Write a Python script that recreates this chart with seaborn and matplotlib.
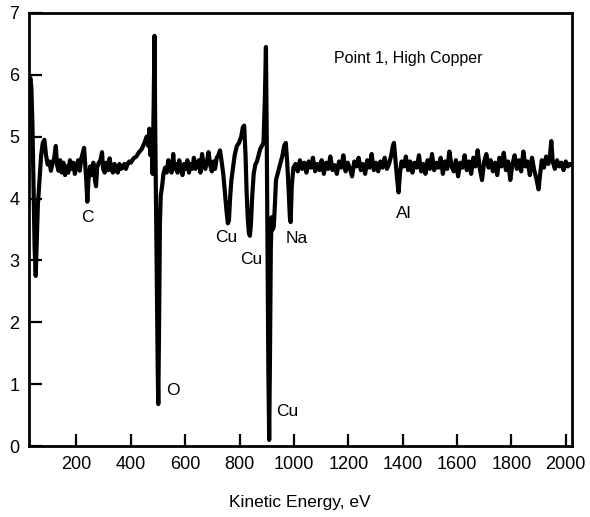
import matplotlib
matplotlib.use("Agg")
import matplotlib.pyplot as plt
import seaborn as sns
import pandas as pd

energy = [26, 30, 34, 38, 42, 46, 50, 54, 58, 64, 70, 76, 82, 88, 94, 100, 106, 112, 118, 124, 128,
          134, 140, 146, 152, 158, 164, 170, 176, 182, 188, 194, 200, 206, 212, 218, 224, 228, 232,
          236, 240, 244, 250, 256, 262, 268, 272, 276, 282, 288, 294, 298, 304, 310, 316, 322, 328,
          334, 340, 346, 352, 358, 364, 370, 376, 382, 388, 394, 400, 410, 420, 430, 440, 450, 458,
          464, 468, 472, 476, 480, 484, 487, 490, 493, 496, 499, 501, 504, 507, 510, 515, 520, 526,
          532, 538, 544, 550, 556, 560, 566, 572, 578, 584, 590, 596, 602, 608, 614, 620, 626, 632,
          638, 644, 650, 656, 662, 668, 674, 680, 686, 692, 698, 704, 710, 716, 722, 728, 734, 740,
          746, 752, 757, 761, 765, 770, 776, 782, 790, 798, 806, 812, 817, 822, 826, 830, 834, 838,
          842, 846, 852, 858, 864, 870, 876, 882, 888, 893, 897, 900, 903, 906, 909, 912, 915, 918,
          922, 926, 930, 934, 940, 946, 952, 958, 964, 970, 975, 980, 985, 988, 992, 998,
          1006, 1014, 1022, 1030, 1038, 1046, 1054, 1062, 1070, 1078, 1086, 1094, 1102, 1110, 1118,
          1126, 1134, 1142, 1150, 1158, 1166, 1174, 1182, 1190, 1198, 1206, 1214, 1222, 1230, 1238,
          1246, 1254, 1262, 1270, 1278, 1286, 1294, 1302, 1310, 1318, 1326, 1334, 1342, 1350, 1358,
          1364, 1368, 1374, 1380, 1385, 1390, 1396, 1404, 1412, 1420, 1428, 1436, 1444, 1452, 1460,
          1468, 1476, 1484, 1492, 1500, 1508, 1516, 1524, 1532, 1540, 1548, 1556, 1564, 1572, 1580,
          1588, 1596, 1604, 1612, 1620, 1628, 1636, 1644, 1652, 1660, 1668, 1676, 1684, 1692, 1700,
          1708, 1716, 1724, 1732, 1740, 1748, 1756, 1764, 1772, 1780, 1788, 1796, 1804, 1812, 1820,
          1828, 1836, 1844, 1852, 1860, 1868, 1876, 1884, 1892, 1900, 1906, 1912, 1920, 1928, 1936,
          1942, 1947, 1952, 1960, 1968, 1976, 1984, 1992, 2000, 2008, 2016, 2022]

signal = [5.70, 5.95, 5.80, 5.20, 4.20, 3.20, 2.75, 3.30, 3.90, 4.30, 4.70, 4.90, 4.95, 4.70, 4.55,
          4.60, 4.45, 4.58, 4.65, 4.85, 4.55, 4.45, 4.62, 4.42, 4.58, 4.38, 4.52, 4.42, 4.62, 4.48,
          4.58, 4.40, 4.52, 4.62, 4.45, 4.65, 4.75, 4.82, 4.55, 4.30, 3.95, 4.30, 4.52, 4.38, 4.58,
          4.30, 4.20, 4.50, 4.58, 4.62, 4.75, 4.48, 4.42, 4.58, 4.46, 4.65, 4.48, 4.42, 4.56, 4.46,
          4.42, 4.56, 4.48, 4.50, 4.56, 4.48, 4.56, 4.60, 4.58, 4.65, 4.68, 4.75, 4.80, 4.90, 5.00,
          4.85, 5.13, 4.70, 5.05, 4.40, 5.50, 6.63, 5.00, 3.80, 2.50, 1.20, 0.68, 2.00, 3.60, 4.05,
          4.20, 4.40, 4.50, 4.42, 4.62, 4.48, 4.42, 4.72, 4.48, 4.56, 4.42, 4.62, 4.48, 4.38, 4.56,
          4.48, 4.62, 4.42, 4.56, 4.48, 4.66, 4.48, 4.56, 4.62, 4.42, 4.72, 4.54, 4.48, 4.60, 4.75,
          4.54, 4.44, 4.60, 4.48, 4.66, 4.70, 4.78, 4.60, 4.40, 4.10, 3.80, 3.60, 3.65, 4.00, 4.30,
          4.50, 4.70, 4.85, 4.90, 5.00, 5.15, 5.18, 4.70, 4.10, 3.70, 3.45, 3.40, 3.60, 4.00, 4.40,
          4.55, 4.60, 4.70, 4.80, 4.85, 4.90, 5.60, 6.45, 5.00, 3.00, 1.20, 0.10, 1.50, 3.20, 3.70,
          3.50, 3.55, 3.90, 4.30, 4.40, 4.50, 4.60, 4.70, 4.85, 4.90, 4.60, 4.20, 3.70, 3.62, 4.20,
          4.50,
          4.56, 4.44, 4.62, 4.48, 4.58, 4.42, 4.60, 4.50, 4.66, 4.44, 4.56, 4.46, 4.62, 4.40, 4.58,
          4.48, 4.68, 4.46, 4.54, 4.40, 4.60, 4.50, 4.70, 4.44, 4.58, 4.48, 4.36, 4.60, 4.52, 4.66,
          4.46, 4.56, 4.40, 4.62, 4.50, 4.72, 4.46, 4.58, 4.44, 4.60, 4.50, 4.66, 4.48, 4.56, 4.70,
          4.85, 4.90, 4.60, 4.30, 4.10, 4.40, 4.60, 4.52, 4.68, 4.46, 4.60, 4.42, 4.58, 4.50, 4.70,
          4.44, 4.56, 4.40, 4.62, 4.48, 4.72, 4.46, 4.58, 4.50, 4.66, 4.40, 4.60, 4.48, 4.76, 4.52,
          4.44, 4.62, 4.36, 4.58, 4.50, 4.70, 4.46, 4.60, 4.40, 4.66, 4.52, 4.78, 4.48, 4.30, 4.60,
          4.72, 4.50, 4.62, 4.44, 4.58, 4.38, 4.66, 4.52, 4.74, 4.46, 4.60, 4.30, 4.56, 4.70, 4.48,
          4.62, 4.44, 4.76, 4.52, 4.60, 4.38, 4.66, 4.46, 4.32, 4.15, 4.40, 4.62, 4.50, 4.68, 4.56,
          4.70, 4.93, 4.60, 4.48, 4.62, 4.52, 4.58, 4.46, 4.60, 4.52, 4.56, 4.55]

tick_x = [200, 400, 600, 800, 1000, 1200, 1400, 1600, 1800, 2000]
tick_y = [0, 1, 2, 3, 4, 5, 6, 7]

peak_labels = ["C", "O", "Cu", "Cu", "Na", "Cu", "Al"]
peak_label_x = [240, 555, 750, 842, 1010, 975, 1404]
peak_label_y = [3.69, 0.9, 3.37, 3.02, 3.35, 0.56, 3.76]

title_text = "Point 1, High Copper"
x_label = "Kinetic Energy, eV"

sns.set_style("ticks")
plt.rcParams["font.family"] = ["Liberation Sans", "DejaVu Sans"]

df = pd.DataFrame({"energy": energy, "signal": signal})

fig = plt.figure(figsize=(5.9, 5.17), dpi=100)
ax = fig.add_axes([0.049, 0.137, 0.92, 0.838])
sns.lineplot(data=df, x="energy", y="signal", ax=ax, color="black",
             linewidth=3.0, estimator=None, sort=False)

ax.set_xlim(25, 2022)
ax.set_ylim(0, 7)
ax.set_xticks(tick_x)
ax.set_yticks(tick_y)
ax.tick_params(direction="in", length=9, width=1.6, labelsize=13, pad=7,
               colors="black", labelcolor="black")
for s in ax.spines.values():
    s.set_visible(True)
    s.set_linewidth(2)
    s.set_color("black")
ax.set_xlabel(x_label, fontsize=12.5, labelpad=16, color="black")
ax.set_ylabel("")

for t, xx, yy in zip(peak_labels, peak_label_x, peak_label_y):
    ax.text(xx, yy, t, fontsize=12.5, ha="center", va="center", color="black")

ax.text(1422, 6.27, title_text, fontsize=11.5, ha="center", va="center", color="black")

fig.savefig("out.png", dpi=100)
